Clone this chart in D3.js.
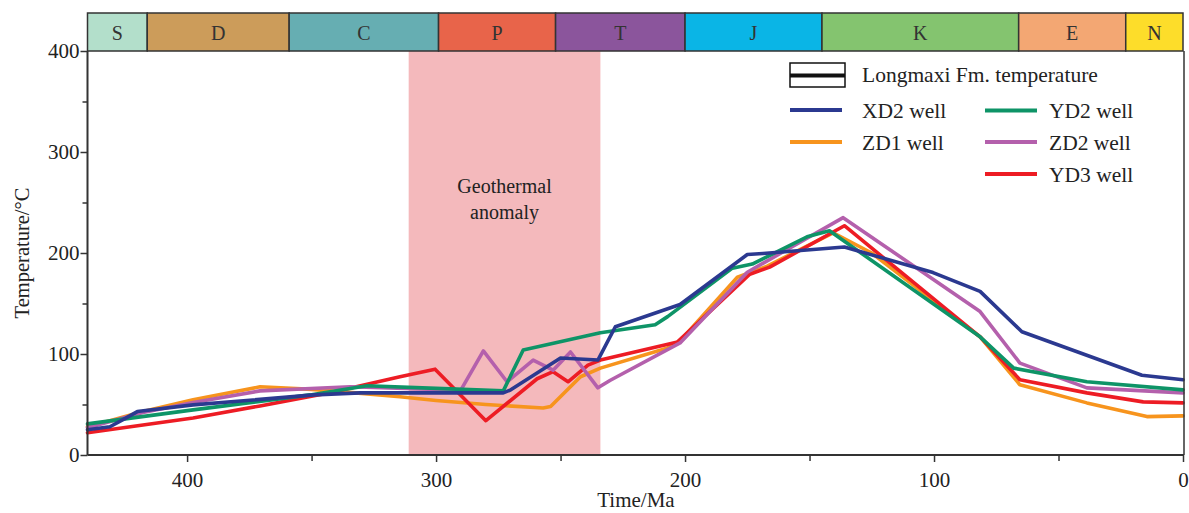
<!DOCTYPE html>
<html><head><meta charset="utf-8">
<script src="https://cdn.jsdelivr.net/npm/d3@7"></script>
<style>html,body{margin:0;padding:0;background:#fff;}svg{display:block;font-family:"Liberation Serif","Times New Roman",serif;}</style>
</head><body><svg id="c" width="1189" height="513"></svg>
<script>
// ---- data ----
const periodNames = ["S","D","C","P","T","J","K","E","N"];
const periodStart = [440,416,359,299,252,200,145,66,23];
const periodEnd   = [416,359,299,252,200,145,66,23,0];
const periodColors = ["#b3dfcb","#cc9c5a","#66aeb2","#e8644a","#8b559c","#0ab5e6","#84c46f","#f3a773","#fddd2a"];

const anomalyRange = [311, 234];

const xTicksMajor = [400,300,200,100,0];
const xTicksMinor = [350,250,150,50];
const yTicksMajor = [0,100,200,300,400];
const yTicksMinor = [50,150,250,350];

const zd1Age  = [440,431,417.7,397.6,370.7,350,330,314.5,300,280,257,254,242,234,207,202,179,167,140.5,125,81.5,65.5,38.6,14.5,0];
const zd1Temp = [28,34,43,54.6,67.5,65,61,57.6,54,50,46.6,48,77.5,86,106,113,176,187,220,200,117,69.5,51.6,38,38.7];

const yd3Age  = [440,397.6,370.7,340,314.5,300.4,280,259.4,253,247,239,234,203,174,166,136,81.5,65.5,38.6,16,0];
const yd3Temp = [22,36.7,48.6,63,77.4,85,34,75.5,82.5,72.5,89,94,112,179,186,227,117,74.5,61.5,52.6,51.6];

const zd2Age  = [440,417.7,397.6,370.7,334.5,300,290,281,271.5,261,253,246,235,230,202,175,136.5,81.5,65.5,38.6,0];
const zd2Temp = [27,42,52,63.5,67.5,65,64.5,103,72.5,94,84,102,66.5,74,111,181,235,142,91,66.5,61.5];

const yd2Age  = [440,397.6,350.6,327.7,300,273,265,234,212,207,181,173,151,142,81.5,68,38.6,0];
const yd2Temp = [30.8,44.7,59.5,68.5,66,63.5,104,121,129,137,185,189,216,222,117,86,72.5,64.5];

const xd2Age  = [440,431,425,420,397.6,349,330.5,273,270,250,235,228,202,175,168.7,136,100.4,81.5,64.7,16.5,0];
const xd2Temp = [25,28,36,43,49.6,59.5,61.5,61.5,64.5,96,94,127,149,198.5,199.5,206,180.6,162,122,79,74.5];

const seriesNames  = ["ZD1 well","YD3 well","ZD2 well","YD2 well","XD2 well"];
const seriesColors = ["#f7941d","#ed1c24","#b460ac","#0e9467","#2b3990"];
const seriesAges   = [zd1Age,yd3Age,zd2Age,yd2Age,xd2Age];
const seriesTemps  = [zd1Temp,yd3Temp,zd2Temp,yd2Temp,xd2Temp];

// ---- layout ----
const svg = d3.select("#c");
const L = 87.5, R = 1183, T = 51, B = 455, barTop = 13;
const x = d3.scaleLinear().domain([440,0]).range([L,R]);
const y = d3.scaleLinear().domain([0,400]).range([B,T]);
const axisColor = "#333";

// anomaly band
svg.append("rect").attr("x",x(anomalyRange[0])).attr("y",T)
  .attr("width",x(anomalyRange[1])-x(anomalyRange[0])).attr("height",B-T)
  .attr("fill","#f4b9bc");
svg.append("text").attr("x",x((anomalyRange[0]+anomalyRange[1])/2)).attr("y",193)
  .attr("text-anchor","middle").attr("font-size",20).attr("fill","#222").text("Geothermal");
svg.append("text").attr("x",x((anomalyRange[0]+anomalyRange[1])/2)).attr("y",219)
  .attr("text-anchor","middle").attr("font-size",20).attr("fill","#222").text("anomaly");

// period bar
const pb = svg.append("g");
periodNames.forEach((n,i)=>{
  pb.append("rect").attr("x",x(periodStart[i])).attr("y",barTop)
    .attr("width",x(periodEnd[i])-x(periodStart[i])).attr("height",T-barTop)
    .attr("fill",periodColors[i]).attr("stroke",axisColor).attr("stroke-width",1.5);
  pb.append("text").attr("x",(x(periodStart[i])+x(periodEnd[i]))/2).attr("y",40)
    .attr("text-anchor","middle").attr("font-size",20).attr("fill","#333").text(n);
});

// lines
const line = d3.line().x(d=>x(d[0])).y(d=>y(d[1])).curve(d3.curveLinear);
seriesNames.forEach((n,i)=>{
  const pts = seriesAges[i].map((a,j)=>[a,seriesTemps[i][j]]);
  svg.append("path").datum(pts).attr("d",line).attr("fill","none")
    .attr("stroke",seriesColors[i]).attr("stroke-width",3.6)
    .attr("stroke-linejoin","round").attr("stroke-linecap","round");
});

// frame
svg.append("line").attr("x1",L).attr("x2",L).attr("y1",T).attr("y2",B).attr("stroke",axisColor).attr("stroke-width",2);
svg.append("line").attr("x1",L).attr("x2",R+1).attr("y1",B).attr("y2",B).attr("stroke",axisColor).attr("stroke-width",2);
svg.append("line").attr("x1",R+1).attr("x2",R+1).attr("y1",T).attr("y2",B).attr("stroke",axisColor).attr("stroke-width",1.5);

// axes ticks
const xa = svg.append("g").attr("transform",`translate(0,${B})`)
  .call(d3.axisBottom(x).tickValues(xTicksMajor).tickSize(7).tickSizeOuter(0).tickFormat(d3.format("d")));
xa.select(".domain").remove();
xa.selectAll("line").attr("stroke",axisColor).attr("stroke-width",1.5);
xa.selectAll("text").attr("font-size",21).attr("fill","#222").attr("font-family","Liberation Serif").attr("dy","1.05em");
const xm = svg.append("g").attr("transform",`translate(0,${B})`)
  .call(d3.axisBottom(x).tickValues(xTicksMinor).tickSize(6).tickFormat(""));
xm.select(".domain").remove();
xm.selectAll("line").attr("stroke",axisColor).attr("stroke-width",1.5);

const ya = svg.append("g").attr("transform",`translate(${L},0)`)
  .call(d3.axisLeft(y).tickValues(yTicksMajor).tickSize(7).tickSizeOuter(0).tickFormat(d3.format("d")));
ya.select(".domain").remove();
ya.selectAll("line").attr("stroke",axisColor).attr("stroke-width",1.5);
ya.selectAll("text").attr("font-size",21).attr("fill","#222").attr("font-family","Liberation Serif").attr("x",-8);
const ym = svg.append("g").attr("transform",`translate(${L},0)`)
  .call(d3.axisLeft(y).tickValues(yTicksMinor).tickSize(5).tickFormat(""));
ym.select(".domain").remove();
ym.selectAll("line").attr("stroke",axisColor).attr("stroke-width",1.5);

// axis titles
svg.append("text").attr("x",636).attr("y",507).attr("text-anchor","middle")
  .attr("font-size",21).attr("fill","#222").text("Time/Ma");
svg.append("text").attr("transform","translate(29,253) rotate(-90)").attr("text-anchor","middle")
  .attr("font-size",20.5).attr("fill","#222").text("Temperature/°C");

// legend
const lg = svg.append("g");
lg.append("rect").attr("x",790).attr("y",63).attr("width",55).attr("height",24)
  .attr("fill","#fff").attr("stroke","#111").attr("stroke-width",1.5);
lg.append("line").attr("x1",790).attr("x2",845).attr("y1",75.5).attr("y2",75.5).attr("stroke","#111").attr("stroke-width",4);
lg.append("text").attr("x",862).attr("y",82).attr("font-size",21.5).attr("fill","#222").text("Longmaxi Fm. temperature");
const legPos = {"XD2 well":[790,110,862],"YD2 well":[985,110.5,1049],"ZD1 well":[790,142,862],"ZD2 well":[985,142,1049],"YD3 well":[985,174,1049]};
seriesNames.forEach((n,i)=>{
  const [lx,ly,tx] = legPos[n];
  lg.append("line").attr("x1",lx).attr("x2",lx+52).attr("y1",ly).attr("y2",ly)
    .attr("stroke",seriesColors[i]).attr("stroke-width",4);
  lg.append("text").attr("x",tx).attr("y",ly+7.5).attr("font-size",21.5).attr("fill","#222").text(n);
});
</script></body></html>
